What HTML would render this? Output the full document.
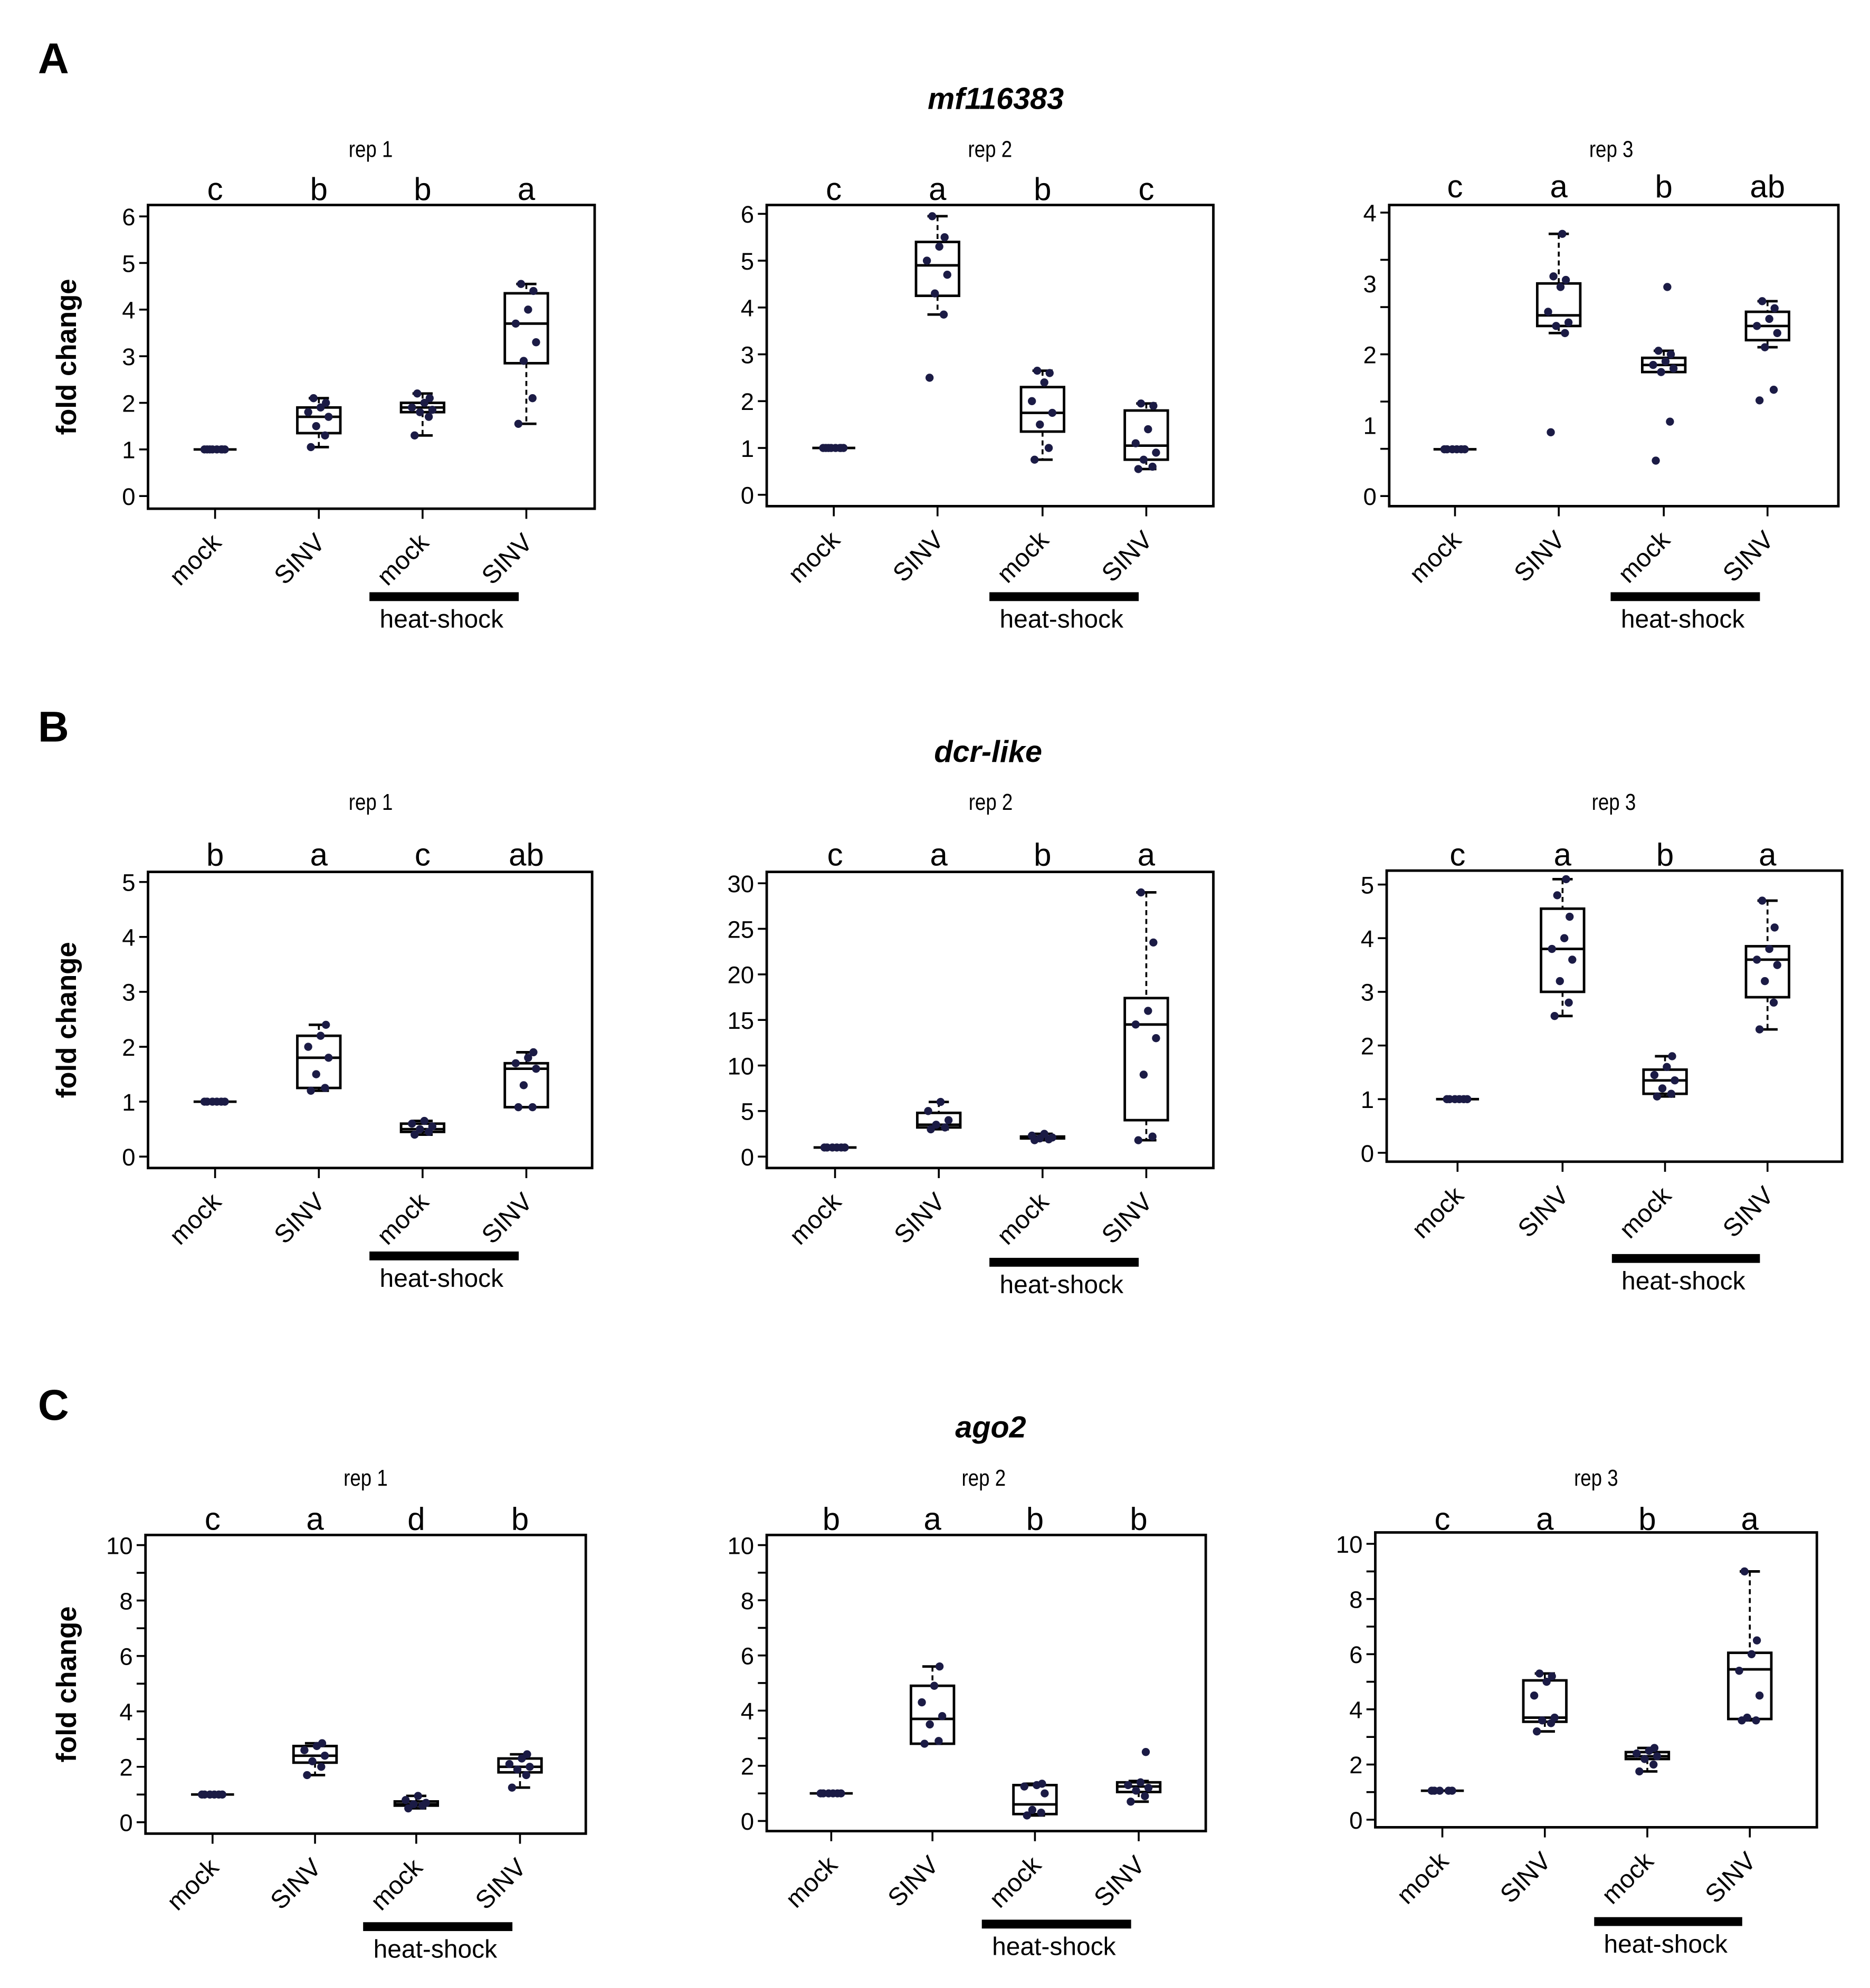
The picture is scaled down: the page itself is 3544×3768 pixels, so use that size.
<!DOCTYPE html>
<html><head><meta charset="utf-8"><style>
html,body{margin:0;padding:0;background:#fff;}
svg{display:block;}
text{font-family:"Liberation Sans",sans-serif;}
</style></head><body>
<svg id="fig" width="3544" height="3768" viewBox="0 0 1478 1571" preserveAspectRatio="none" xmlns="http://www.w3.org/2000/svg">
<text x="30" y="58" font-size="34" font-weight="bold">A</text>
<text x="30" y="586" font-size="34" font-weight="bold">B</text>
<text x="30" y="1122" font-size="34" font-weight="bold">C</text>
<text x="787" y="86" font-size="24" font-weight="bold" font-style="italic" text-anchor="middle">mf116383</text>
<text x="781" y="602" font-size="24" font-weight="bold" font-style="italic" text-anchor="middle">dcr-like</text>
<text x="783" y="1136" font-size="24" font-weight="bold" font-style="italic" text-anchor="middle">ago2</text>
</svg>
<script>
const categories = ["mock","SINV","mock","SINV"];
// box stats per group: [whiskerLow, q1, median, q3, whiskerHigh]
const boxesA1 = [[1,1,1,1,1],[1.05,1.35,1.7,1.9,2.1],[1.3,1.8,1.9,2.0,2.2],[1.55,2.85,3.7,4.35,4.55]];
const boxesA2 = [[1,1,1,1,1],[3.85,4.25,4.9,5.4,5.95],[0.75,1.35,1.75,2.3,2.65],[0.55,0.75,1.05,1.8,1.95]];
const boxesA3 = [[0.66,0.66,0.66,0.66,0.66],[2.3,2.4,2.55,3.0,3.7],[1.75,1.75,1.85,1.95,2.05],[2.1,2.2,2.4,2.6,2.75]];
const boxesB1 = [[1,1,1,1,1],[1.2,1.25,1.8,2.2,2.4],[0.4,0.45,0.5,0.6,0.65],[0.9,0.9,1.6,1.7,1.9]];
const boxesB2 = [[1,1,1,1,1],[3,3.2,3.5,4.8,6],[1.8,2,2,2.2,2.5],[1.8,4,14.5,17.4,29]];
const boxesB3 = [[1,1,1,1,1],[2.55,3.0,3.8,4.55,5.1],[1.05,1.1,1.35,1.55,1.8],[2.3,2.9,3.6,3.85,4.7]];
const boxesC1 = [[1,1,1,1,1],[1.7,2.15,2.4,2.75,2.85],[0.5,0.6,0.65,0.75,0.95],[1.25,1.8,2.0,2.3,2.45]];
const boxesC2 = [[1,1,1,1,1],[2.8,2.8,3.7,4.9,5.6],[0.2,0.25,0.6,1.3,1.35],[0.7,1.05,1.25,1.4,1.45]];
const boxesC3 = [[1.05,1.05,1.05,1.05,1.05],[3.2,3.55,3.7,5.05,5.3],[1.75,2.2,2.3,2.45,2.6],[3.6,3.65,5.45,6.05,9.0]];
// individual data points per group
const ptsA1 = [[1,1,1,1,1,1,1,1],[1.05,1.3,1.5,1.7,1.8,1.9,2.0,2.1],[1.3,1.7,1.8,1.85,1.9,2.0,2.1,2.2],[1.55,2.1,2.9,3.3,3.7,4.0,4.4,4.55]];
const ptsA2 = [[1,1,1,1,1,1,1,1],[2.5,3.85,4.3,4.7,5.0,5.3,5.5,5.95],[0.75,1.0,1.5,1.75,2.0,2.4,2.6,2.65],[0.55,0.6,0.75,0.9,1.1,1.4,1.9,1.95]];
const ptsA3 = [[0.66,0.66,0.66,0.66,0.66,0.66],[0.9,2.3,2.4,2.45,2.6,2.95,3.05,3.1,3.7],[0.5,1.05,1.75,1.8,1.85,1.9,2.0,2.05,2.95],[1.35,1.5,2.1,2.3,2.4,2.5,2.65,2.75]];
const ptsB1 = [[1,1,1,1,1,1],[1.2,1.25,1.5,1.8,2.0,2.2,2.4],[0.4,0.45,0.5,0.55,0.6,0.65],[0.9,0.9,1.3,1.6,1.7,1.8,1.9]];
const ptsB2 = [[1,1,1,1,1,1],[3,3.2,3.5,4,5,6],[1.8,1.9,2,2.1,2.3,2.5],[1.8,2.2,9,13,14.5,16,23.5,29]];
const ptsB3 = [[1,1,1,1,1,1],[2.55,2.8,3.2,3.6,3.8,4.0,4.4,4.8,5.1],[1.05,1.1,1.2,1.35,1.45,1.6,1.8],[2.3,2.8,3.2,3.5,3.6,3.8,4.2,4.7]];
const ptsC1 = [[1,1,1,1,1,1],[1.7,2.0,2.2,2.4,2.6,2.75,2.85],[0.5,0.6,0.65,0.7,0.8,0.95],[1.25,1.7,1.9,2.0,2.1,2.3,2.45]];
const ptsC2 = [[1,1,1,1,1,1],[2.8,2.9,3.5,3.8,4.3,4.9,5.6],[0.2,0.3,0.4,1.0,1.25,1.3,1.35],[0.7,0.9,1.1,1.2,1.3,1.4,2.5]];
const ptsC3 = [[1.05,1.05,1.05,1.05,1.05],[3.2,3.5,3.6,3.7,4.5,5.0,5.2,5.3],[1.75,2.0,2.2,2.3,2.4,2.5,2.6],[3.6,3.6,3.7,4.5,5.4,6.0,6.5,9.0]];
const lettersA1 = ["c","b","b","a"], lettersA2 = ["c","a","b","c"], lettersA3 = ["c","a","b","ab"];
const lettersB1 = ["b","a","c","ab"], lettersB2 = ["c","a","b","a"], lettersB3 = ["c","a","b","a"];
const lettersC1 = ["c","a","d","b"], lettersC2 = ["b","a","b","b"], lettersC3 = ["c","a","b","a"];
const ticksA12 = [0,1,2,3,4,5,6], ticksA3 = [0,1,2,3,4];
const ticksB1 = [0,1,2,3,4,5], ticksB2 = [0,5,10,15,20,25,30], ticksB3 = [0,1,2,3,4,5];
const ticksC = [0,2,4,6,8,10];

const NS="http://www.w3.org/2000/svg";
const svg=document.getElementById('fig');
function mk(tag,attrs,parent){const e=document.createElementNS(NS,tag);for(const k in attrs)e.setAttribute(k,attrs[k]);(parent||svg).appendChild(e);return e;}

const panels=[
 {id:"a1",rep:"rep 1",L:117,R:470,T:162,B:402,y0:392,yMaxPx:171,yMax:6,cx:[170,252,334,416],boxes:boxesA1,pts:ptsA1,letters:lettersA1,ticks:ticksA12,minor:0,letY:158,repY:124,hb:472,ylab:true},
 {id:"a2",rep:"rep 2",L:606,R:959,T:162,B:400,y0:391,yMaxPx:169,yMax:6,cx:[659,741,824,906],boxes:boxesA2,pts:ptsA2,letters:lettersA2,ticks:ticksA12,minor:0,letY:158,repY:124,hb:472},
 {id:"a3",rep:"rep 3",L:1098,R:1453,T:162,B:400,y0:392,yMaxPx:168,yMax:4,cx:[1150,1232,1315,1397],boxes:boxesA3,pts:ptsA3,letters:lettersA3,ticks:ticksA3,minor:6,letY:156,repY:124,hb:472},
 {id:"b1",rep:"rep 1",L:117,R:468,T:689,B:923,y0:914,yMaxPx:697,yMax:5,cx:[170,252,334,416],boxes:boxesB1,pts:ptsB1,letters:lettersB1,ticks:ticksB1,minor:0,letY:684,repY:640,hb:993,ylab:true},
 {id:"b2",rep:"rep 2",L:606,R:959,T:689,B:923,y0:914,yMaxPx:698,yMax:30,cx:[660,742,824,906],boxes:boxesB2,pts:ptsB2,letters:lettersB2,ticks:ticksB2,minor:0,letY:684,repY:640,hb:998},
 {id:"b3",rep:"rep 3",L:1096,R:1456,T:688,B:918,y0:911,yMaxPx:699,yMax:5,cx:[1152,1235,1316,1397],boxes:boxesB3,pts:ptsB3,letters:lettersB3,ticks:ticksB3,minor:0,letY:684,repY:640,hb:995},
 {id:"c1",rep:"rep 1",L:115,R:463,T:1213,B:1449,y0:1440,yMaxPx:1221,yMax:10,cx:[168,249,329,411],boxes:boxesC1,pts:ptsC1,letters:lettersC1,ticks:ticksC,minor:10,letY:1209,repY:1174,hb:1523,ylab:true},
 {id:"c2",rep:"rep 2",L:606,R:953,T:1213,B:1447,y0:1439,yMaxPx:1221,yMax:10,cx:[657,737,818,900],boxes:boxesC2,pts:ptsC2,letters:lettersC2,ticks:ticksC,minor:10,letY:1209,repY:1174,hb:1521},
 {id:"c3",rep:"rep 3",L:1087,R:1436,T:1211,B:1444,y0:1438,yMaxPx:1220,yMax:10,cx:[1140,1221,1302,1383],boxes:boxesC3,pts:ptsC3,letters:lettersC3,ticks:ticksC,minor:10,letY:1209,repY:1174,hb:1519}
];
const jit=[-0.45,0.35,-0.15,0.55,-0.6,0.1,0.4,-0.3,0.2];
panels.forEach(p=>{
 const g=mk('g',{});
 
 
 const y=v=>p.y0-(v/p.yMax)*(p.y0-p.yMaxPx);
 const rx=(p.cx[1]+p.cx[2])/2;
 const rt=mk('text',{x:0,y:0,'font-size':18,'text-anchor':'middle',transform:`translate(${rx},${p.repY}) scale(0.85,1)`},g);rt.textContent=p.rep;
 
 
 const fr=mk('rect',{x:p.L,y:p.T,width:p.R-p.L,height:p.B-p.T,fill:'none',stroke:'#000','stroke-width':2},g);
 
 
 if(p.minor){for(let i=0;i<=p.minor;i++){const yy=y(p.yMax*i/p.minor);mk('line',{x1:p.L-7,x2:p.L,y1:yy,y2:yy,stroke:'#000','stroke-width':1.5},g);}}
 p.ticks.forEach(t=>{const yy=y(t);
  if(!p.minor)mk('line',{x1:p.L-7,x2:p.L,y1:yy,y2:yy,stroke:'#000','stroke-width':1.5},g);
  const tl=mk('text',{x:p.L-10,y:yy+7,'font-size':19,'text-anchor':'end'},g);tl.textContent=t;
  
  });
 if(p.ylab){const yl=mk('text',{x:0,y:0,'font-size':22,'font-weight':'bold','text-anchor':'middle',transform:`translate(60,${(p.T+p.B)/2}) rotate(-90)`},g);yl.textContent='fold change';
  
  }
 p.boxes.forEach((b,i)=>{
  const cx=p.cx[i];
  mk('line',{x1:cx,x2:cx,y1:p.B,y2:p.B+8,stroke:'#000','stroke-width':1.5},g);
  const lt=mk('text',{x:cx,y:p.letY,'font-size':25,'text-anchor':'middle','font-family':'Liberation Serif, serif'},g);lt.textContent=p.letters[i];
  
  
  const xl=mk('text',{x:0,y:0,'font-size':20,'text-anchor':'end',transform:`translate(${cx+6},${p.B+28}) rotate(-45)`},g);xl.textContent=categories[i];
  
  
  const bg=mk('g',{},g);
  
  
  const hw=17;
  mk('line',{x1:cx,x2:cx,y1:y(b[4]),y2:y(b[3]),stroke:'#000','stroke-width':1.5,'stroke-dasharray':'4,3'},bg);
  mk('line',{x1:cx,x2:cx,y1:y(b[1]),y2:y(b[0]),stroke:'#000','stroke-width':1.5,'stroke-dasharray':'4,3'},bg);
  mk('line',{x1:cx-8,x2:cx+8,y1:y(b[4]),y2:y(b[4]),stroke:'#000','stroke-width':2},bg);
  mk('line',{x1:cx-8,x2:cx+8,y1:y(b[0]),y2:y(b[0]),stroke:'#000','stroke-width':2},bg);
  mk('rect',{x:cx-hw,y:y(b[3]),width:2*hw,height:Math.max(0,y(b[1])-y(b[3])),fill:'#fff',stroke:'#000','stroke-width':2},bg);
  mk('line',{x1:cx-hw,x2:cx+hw,y1:y(b[2]),y2:y(b[2]),stroke:'#000','stroke-width':2},bg);
  p.pts[i].forEach((v,k)=>{const c=mk('circle',{cx:cx+jit[k%jit.length]*14,cy:y(v),r:3.2,fill:'#1b1b45'},bg);
   
   });
 });
 const hx1=p.cx[2]-42, hx2=p.cx[3]-6;
 const hb=mk('rect',{x:hx1,y:p.hb-4,width:hx2-hx1,height:7,fill:'#000'},g);
 
 
 const ht=mk('text',{x:(hx1+hx2)/2-2,y:p.hb+24,'font-size':20,'text-anchor':'middle'},g);ht.textContent='heat-shock';
 
 
});
</script>
</body></html>
